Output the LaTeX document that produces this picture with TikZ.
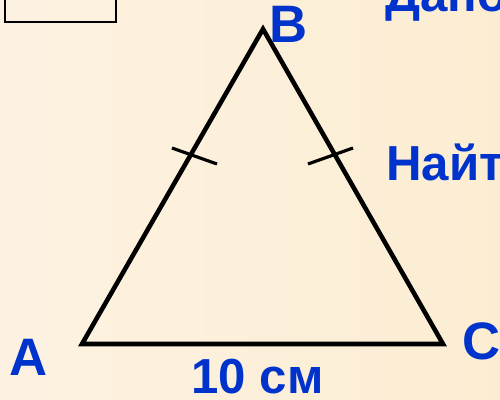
\documentclass[tikz,border=0pt]{standalone}
\usepackage{fontspec}
\setmainfont{Liberation Sans}
\definecolor{bg}{HTML}{FCEDD2}
\definecolor{bgl}{HTML}{FDF2E2}
\definecolor{lbl}{HTML}{0033CC}
\begin{document}
\begin{tikzpicture}[x=0.02cm,y=-0.02cm,
  lab/.style={text=lbl,font=\bfseries\fontsize{30}{30}\selectfont,inner sep=0pt,anchor=base west},
  big/.style={text=lbl,font=\bfseries\fontsize{28}{28}\selectfont,inner sep=0pt,anchor=base west},
  side/.style={line width=2.6pt,line cap=round,line join=miter},
  tick/.style={line width=1.8pt}]
\useasboundingbox (0,0) rectangle (500,399);
\clip (0,0) rectangle (500,399);
\fill[left color=bgl,right color=bg] (0,0) rectangle (500,399);
\draw[line width=0.6pt] (5,-5) rectangle (116,22);
\coordinate (A) at (82,344);
\coordinate (B) at (263,29);
\coordinate (C) at (443,344);
\draw[side] (A) -- (B) -- (C) -- cycle;
\coordinate (t1a) at (172,148);
\coordinate (t1b) at (217,164);
\coordinate (t2a) at (308,164);
\coordinate (t2b) at (353,148);
\draw[tick] (t1a) -- (t1b);
\draw[tick] (t2a) -- (t2b);
\node[lab] (lA) at (9,375) {A};
\node[lab] (lB) at (269,42) {B};
\node[lab] (lC) at (462,359) {C};
\node[big] (len) at (191,393) {10 см};
\node[big] (given) at (385,11) {Дано:};
\node[big] (find) at (386,180) {Найти:};
\end{tikzpicture}
\end{document}
